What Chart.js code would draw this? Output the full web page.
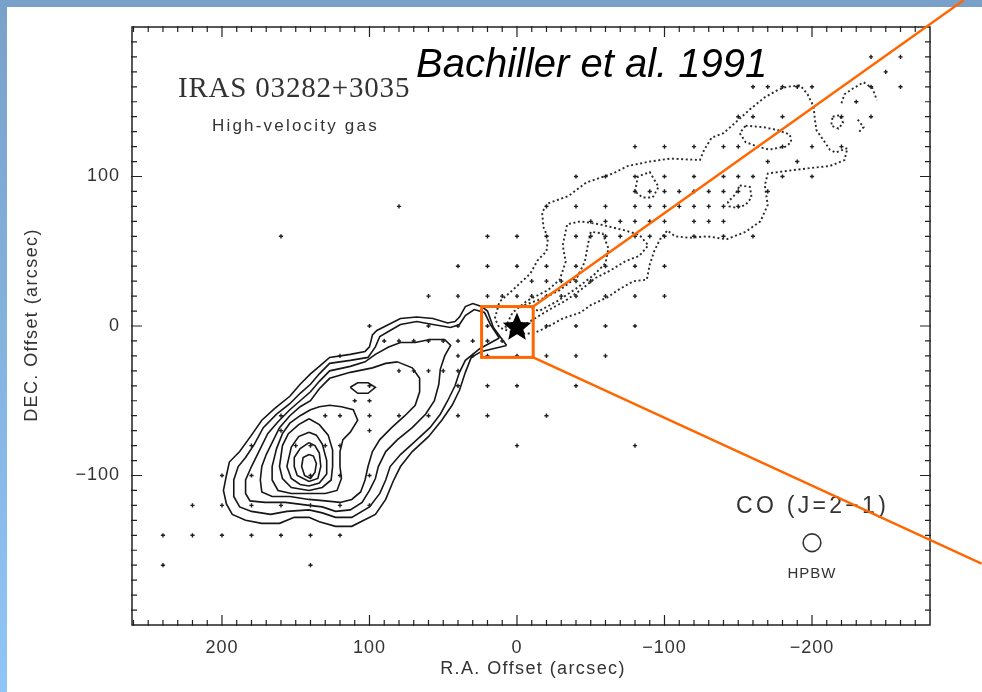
<!DOCTYPE html>
<html><head><meta charset="utf-8">
<script src="https://cdn.jsdelivr.net/npm/chart.js@4/dist/chart.umd.min.js"></script>
<style>html,body{margin:0;padding:0;background:#fff;overflow:hidden}canvas{display:block}</style>
</head><body>
<canvas id="c" width="982" height="692"></canvas>
<script>
// ---------------- DATA (arcsec offsets) ----------------
const xTickLabels = [200, 100, 0, -100, -200];
const yTickLabels = [100, 0, -100];

// observed positions ('+'), one row per declination offset
const gridY = [180,170,160,150,140,120,110,100,90,80,70,60,40,30,20,0,-10,-20,-30,-40,-50,-60,-70,-80,-100,-120,-140,-160];
const gridX = [
  [-240,-260],
  [-250],
  [-160,-170,-180,-190,-200,-240,-260],
  [-230],
  [-150,-160,-180,-220,-240],
  [-80,-100,-120,-140,-150,-180,-200,-220],
  [-170,-190],
  [-40,-60,-80,-100,-120,-140,-150,-160,-180,-200],
  [-80,-90,-100,-110,-120,-130,-140,-150,-170],
  [80,-20,-40,-60,-80,-90,-100,-110,-120,-130,-140,-150],
  [-50,-60,-70,-80,-90,-100,-120,-130,-140],
  [160,20,0,-20,-40,-50,-60,-70,-80,-90,-100,-120,-140,-160],
  [40,20,0,-20,-40,-60,-80,-100],
  [-10,-20,-30,-40,-50],
  [60,40,20,10,0,-10,-20,-30,-40,-60,-80,-100],
  [100,60,40,20,-20,-40,-60,-80],
  [90,80,70,60,50,40,30,20,10],
  [120,40,30,20,0,-20,-40,-60],
  [80,70,60,50,40],
  [100,40,20,0,-40],
  [110,100],
  [160,130,120,100,80,60,40,20,-20],
  [160,100],
  [180,150,140,130,120,0,-80],
  [200,180,140,120,100],
  [220,200,180,160,140,120,100],
  [240,220,200,180,160,140,120],
  [240,140]
];

// blue-shifted lobe: solid contours (closed)
const blue1 = [[7,-13],[16,-1],[20,10],[24,13],[30,15],[35,13],[39,6],[42,3],[47,2],[57,5],[68,6],[79,5],[87,1],[95,-3],[98,-6],[100,-14],[103,-17],[113,-19],[127,-21],[134,-27],[140,-32],[147,-39],[154,-47],[164,-55],[173,-63],[180,-73],[188,-84],[195,-91],[197,-100],[199,-110],[197,-119],[193,-126],[184,-130],[173,-132],[161,-132],[151,-128],[141,-128],[134,-131],[123,-134],[112,-134],[96,-126],[89,-116],[84,-104],[79,-94],[71,-84],[60,-74],[51,-63],[44,-53],[39,-43],[35,-31],[31,-21],[24,-17]];
const blue2 = [[12,-8],[18,1],[22,9],[29,11],[35,7],[39,1],[45,-1],[57,1],[68,3],[79,1],[86,-3],[93,-7],[96,-14],[101,-21],[113,-23],[127,-25],[134,-32],[140,-39],[147,-45],[154,-52],[163,-59],[172,-68],[178,-79],[184,-88],[189,-94],[192,-103],[192,-114],[188,-121],[180,-124],[167,-126],[156,-124],[141,-123],[132,-125],[123,-128],[112,-128],[100,-121],[93,-112],[89,-103],[86,-94],[79,-86],[70,-78],[59,-68],[52,-59],[47,-50],[42,-40],[39,-31],[35,-23],[25,-15]];
const blue3 = [[49,-9],[59,-9],[69,-11],[79,-11],[87,-14],[96,-19],[103,-24],[113,-27],[127,-30],[134,-37],[140,-44],[147,-50],[154,-56],[162,-64],[169,-72],[174,-82],[180,-94],[184,-103],[184,-112],[181,-117],[171,-118],[157,-118],[141,-120],[132,-121],[123,-124],[113,-123],[105,-118],[100,-110],[96,-102],[94,-94],[89,-84],[81,-76],[71,-68],[62,-59],[56,-50],[53,-39],[52,-29],[49,-20],[45,-13]];
const blue4 = [[81,-24],[89,-25],[98,-28],[113,-31],[127,-35],[134,-42],[140,-50],[147,-54],[154,-60],[161,-68],[166,-78],[170,-86],[173,-94],[174,-103],[173,-111],[166,-114],[154,-114],[141,-116],[130,-117],[120,-118],[112,-116],[106,-111],[103,-103],[101,-94],[98,-84],[93,-76],[85,-68],[76,-60],[69,-53],[66,-44],[66,-35],[71,-28]];
const blue5 = [[140,-56],[147,-60],[154,-65],[159,-72],[163,-82],[166,-94],[166,-103],[162,-110],[153,-112],[141,-112],[130,-112],[122,-110],[119,-102],[120,-94],[120,-84],[118,-76],[113,-71],[108,-63],[111,-56],[119,-54],[127,-53],[134,-54]];
const blue6 = [[141,-62],[148,-66],[155,-72],[159,-80],[161,-94],[159,-102],[153,-108],[141,-110],[132,-108],[126,-103],[125,-94],[125,-83],[128,-73],[134,-66]];
const blue7 = [[141,-71],[148,-74],[153,-81],[156,-94],[153,-102],[147,-106],[141,-107],[134,-105],[129,-99],[129,-90],[132,-79],[136,-73]];
const blue8 = [[141,-78],[147,-82],[151,-88],[151,-94],[149,-100],[141,-104],[135,-102],[133,-94],[134,-85],[137,-80]];
const blue9 = [[141,-86],[145,-88],[146,-94],[144,-100],[140,-102],[137,-98],[136,-92],[138,-87]];
const blueKnot = [[113,-41],[108,-38],[101,-38],[96,-41],[101,-45],[108,-45]];

// red-shifted lobe: dotted contours
const red1 = [[15,5],[12,16],[3,24],[-9,35],[-14,44],[-20,50],[-21,59],[-18,66],[-17,76],[-21,82],[-35,87],[-47,96],[-65,102],[-75,107],[-90,110],[-104,112],[-124,111],[-127,118],[-132,126],[-140,129],[-148,136],[-158,145],[-168,153],[-177,158],[-183,160],[-192,161],[-197,155],[-201,147],[-202,138],[-203,131],[-208,124],[-212,118],[-216,116],[-224,119],[-222,111],[-212,107],[-202,106],[-185,104],[-170,102],[-168,94],[-170,81],[-165,70],[-155,63],[-142,58],[-129,60],[-117,59],[-107,60],[-102,64],[-97,58],[-93,50],[-90,41],[-88,31],[-79,30],[-70,25],[-61,19],[-50,14],[-43,9],[-31,5],[-20,-1],[-11,-5],[1,-5],[12,-1]];
const red2 = [[8,-1],[3,9],[-7,17],[-21,24],[-29,31],[-33,43],[-31,54],[-34,68],[-43,70],[-56,68],[-73,64],[-83,61],[-89,54],[-83,47],[-73,43],[-63,37],[-53,32],[-43,24],[-33,17],[-22,11],[-12,5],[-2,-1]];
const red3 = [[-5,14],[-19,19],[-29,24],[-41,33],[-46,43],[-48,54],[-50,63],[-58,62],[-62,52],[-60,42],[-52,34],[-40,25],[-28,17],[-15,10]];
const redFinger = [[-155,134],[-167,133],[-177,131],[-185,128],[-186,123],[-182,120],[-171,118],[-163,120],[-155,123],[-151,129]];
const redLoopA = [[-80,90],[-82,100],[-90,103],[-96,93],[-92,86],[-85,86]];
const redLoopB = [[-151,94],[-158,93],[-159,86],[-155,81],[-149,79],[-144,80],[-143,83],[-148,88]];
const redLoopC = [[-214,140],[-219,141],[-221,136],[-218,132],[-213,134]];
const redArcD = [[-220,149],[-222,155],[-228,159],[-235,163],[-241,159],[-244,151]];
const redArcE = [[-231,138],[-235,133],[-231,129]];

const sourcePos = [[0, 0]];
const beam = {x: -200, y: -145, diameter: 12};
const zoomBox = {x1: 24, y1: 13, x2: -11, y2: -21};
const zoomRays = [[-11, 13, -303, 218], [-11, -21, -315, -159]];

// ---------------- BUILD ----------------
const toXY = a => a.map(([x, y]) => ({x, y}));
const closed = a => toXY(a.concat([a[0]]));

const solidSet = [blue1, blue2, blue3, blue4, blue5, blue6, blue7, blue8, blue9, blueKnot];
const dottedClosed = [red1, red2, red3, redFinger, redLoopA, redLoopB, redLoopC];
const dottedOpen = [redArcD, redArcE];

const datasets = [];
const starImg = (() => {
  const R = 15, s = 34, c = document.createElement('canvas');
  c.width = s; c.height = s;
  const g = c.getContext('2d');
  g.translate(s / 2, s / 2 + 1.5);
  g.beginPath();
  for (let i = 0; i < 10; i++) {
    const r = i % 2 ? R * 0.45 : R, a = -Math.PI / 2 + i * Math.PI / 5;
    g.lineTo(r * Math.cos(a), r * Math.sin(a));
  }
  g.closePath(); g.fillStyle = '#000'; g.fill();
  return c;
})();

datasets.push({label: 'source', data: toXY(sourcePos), pointStyle: starImg, pointRadius: 15, order: 0});

const pts = [];
gridY.forEach((y, i) => gridX[i].forEach(x => pts.push({x, y})));
datasets.push({label: 'positions', data: pts, pointStyle: 'cross', pointRadius: 2.1,
  borderColor: '#1e1e1e', backgroundColor: '#1e1e1e', pointBorderWidth: 1.4, order: 1});

const lineBase = {showLine: true, pointRadius: 0, pointHoverRadius: 0, tension: 0, fill: false, order: 2};
solidSet.forEach((c, i) => datasets.push(Object.assign({}, lineBase,
  {label: 'blue' + i, data: closed(c), borderColor: '#161616', borderWidth: 1.6})));
dottedClosed.forEach((c, i) => datasets.push(Object.assign({}, lineBase,
  {label: 'red' + i, data: closed(c), borderColor: '#2a2a2a', borderWidth: 1.9, borderDash: [2, 2.6]})));
dottedOpen.forEach((c, i) => datasets.push(Object.assign({}, lineBase,
  {label: 'redo' + i, data: toXY(c), borderColor: '#2a2a2a', borderWidth: 1.9, borderDash: [2, 2.6]})));

const SANS = '"Liberation Sans", Arial, sans-serif';
const fmt = v => v < 0 ? '\u2212' + Math.abs(v) : String(v);

function txt(ctx, s, x, y, font, color, spacing, align) {
  ctx.font = font; ctx.fillStyle = color;
  ctx.letterSpacing = spacing || '0px';
  ctx.textAlign = align || 'left';
  ctx.fillText(s, x, y);
  ctx.letterSpacing = '0px';
}

const deco = {
  id: 'deco',
  beforeDraw(chart) {
    const {ctx, width, height} = chart;
    ctx.save();
    ctx.fillStyle = '#fff'; ctx.fillRect(0, 0, width, height);
    const g = ctx.createLinearGradient(0, 0, 0, height);
    g.addColorStop(0, '#79a0c9'); g.addColorStop(1, '#8fc6f7');
    ctx.fillStyle = g; ctx.fillRect(0, 0, 7, height);
    ctx.fillStyle = '#79a0c9'; ctx.fillRect(0, 0, width, 7);
    ctx.restore();
  },
  afterDraw(chart) {
    const {ctx, chartArea: a, scales: {x, y}} = chart;
    ctx.save();
    // frame
    ctx.strokeStyle = '#222'; ctx.lineWidth = 1.5;
    ctx.strokeRect(a.left, a.top, a.right - a.left, a.bottom - a.top);
    // inward ticks every 10 arcsec, longer every 100
    ctx.lineWidth = 1.2;
    ctx.beginPath();
    for (let v = -270; v <= 260; v += 10) {
      const px = x.getPixelForValue(v), L = v % 100 === 0 ? 10 : 5;
      ctx.moveTo(px, a.bottom + 1); ctx.lineTo(px, a.bottom - L);
      ctx.moveTo(px, a.top - 1); ctx.lineTo(px, a.top + L);
    }
    for (let v = -190; v <= 190; v += 10) {
      const py = y.getPixelForValue(v), L = v % 100 === 0 ? 10 : 5;
      ctx.moveTo(a.left - 1, py); ctx.lineTo(a.left + L, py);
      ctx.moveTo(a.right + 1, py); ctx.lineTo(a.right - L, py);
    }
    ctx.stroke();
    // tick labels
    ctx.textBaseline = 'alphabetic';
    xTickLabels.forEach(v => txt(ctx, fmt(v), x.getPixelForValue(v), 653, '18px ' + SANS, '#333', '1px', 'center'));
    ctx.textBaseline = 'middle';
    yTickLabels.forEach(v => txt(ctx, fmt(v), 120, y.getPixelForValue(v), '18px ' + SANS, '#333', '1px', 'right'));
    ctx.textBaseline = 'alphabetic';
    // axis titles
    txt(ctx, 'R.A. Offset (arcsec)', 533, 674, '18px ' + SANS, '#333', '1.4px', 'center');
    ctx.save(); ctx.translate(37, 325); ctx.rotate(-Math.PI / 2);
    txt(ctx, 'DEC. Offset (arcsec)', 0, 0, '18px ' + SANS, '#333', '1.4px', 'center');
    ctx.restore();
    // annotations
    txt(ctx, 'IRAS 03282+3035', 178, 97, '29px "Liberation Serif", serif', '#333', '0.8px');
    txt(ctx, 'High-velocity gas', 212, 131, '17px ' + SANS, '#333', '2.2px');
    txt(ctx, 'Bachiller et al. 1991', 416, 77, 'italic 40px ' + SANS, '#000');
    txt(ctx, 'CO (J=2\u22121)', 736, 513, '23px ' + SANS, '#333', '3.3px');
    const bx = x.getPixelForValue(beam.x), by = y.getPixelForValue(beam.y);
    const br = Math.abs(x.getPixelForValue(beam.x + beam.diameter / 2) - bx);
    ctx.strokeStyle = '#333'; ctx.lineWidth = 1.6;
    ctx.beginPath(); ctx.arc(bx, by, br, 0, Math.PI * 2); ctx.stroke();
    txt(ctx, 'HPBW', bx, 578, '15px ' + SANS, '#333', '1px', 'center');
    // orange zoom box and rays
    ctx.strokeStyle = '#ff6600';
    ctx.lineWidth = 3;
    const X1 = x.getPixelForValue(zoomBox.x1), X2 = x.getPixelForValue(zoomBox.x2);
    const Y1 = y.getPixelForValue(zoomBox.y1), Y2 = y.getPixelForValue(zoomBox.y2);
    ctx.strokeRect(X1, Y1, X2 - X1, Y2 - Y1);
    ctx.lineWidth = 2.5;
    ctx.beginPath();
    zoomRays.forEach(([x0, y0, x1, y1]) => {
      ctx.moveTo(x.getPixelForValue(x0), y.getPixelForValue(y0));
      ctx.lineTo(x.getPixelForValue(x1), y.getPixelForValue(y1));
    });
    ctx.stroke();
    ctx.restore();
  }
};

new Chart(document.getElementById('c'), {
  type: 'scatter',
  data: {datasets},
  options: {
    responsive: false, devicePixelRatio: 1, animation: false, events: [],
    layout: {padding: {top: 27, right: 52, left: 0, bottom: 0}},
    plugins: {legend: {display: false}, tooltip: {enabled: false}},
    scales: {
      x: {type: 'linear', reverse: true, min: -280, max: 261,
        grid: {display: false, drawTicks: false}, border: {display: false},
        ticks: {display: false}, afterFit(s) { s.height = 67; }},
      y: {type: 'linear', min: -200, max: 200,
        grid: {display: false, drawTicks: false}, border: {display: false},
        ticks: {display: false}, afterFit(s) { s.width = 132; }}
    }
  },
  plugins: [deco]
});
</script>
</body></html>
